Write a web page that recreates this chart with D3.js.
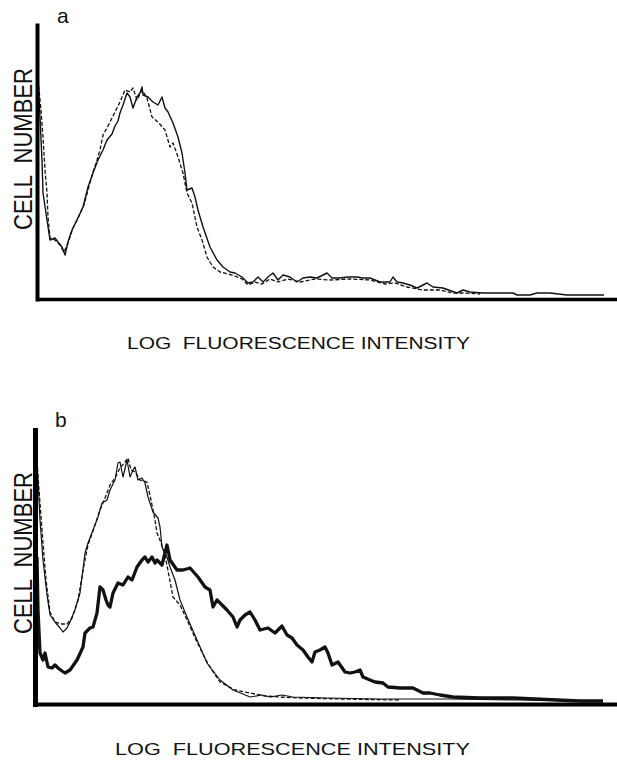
<!DOCTYPE html>
<html>
<head>
<meta charset="utf-8">
<script src="https://cdn.jsdelivr.net/npm/d3@7"></script>
<style>
  html, body { margin: 0; padding: 0; background: #fff; }
  svg text { font-family: "Liberation Sans", Arial, sans-serif; fill: #111; }
</style>
</head>
<body>
<div id="chart"></div>
<script>
/*
    Two flow cytometry histograms (a, b): cell number vs log fluorescence channel
    values, channel 0-580, count 0-274 (arbitrary units)
*/

// panel a: control (solid) and second control (dashed)
var aSolid = [[1,222],[3,182],[5,139],[6,106],[10,79],[13,59],[18,61],[21,57],[25,52],[28,44],
    [31,57],[35,69],[40,79],[46,92],[51,112],[56,126],[61,139],[66,149],[70,159],[75,165],
    [78,173],[81,178],[83,186],[86,194],[90,206],[93,202],[96,191],[100,202],[103,206],[105,212],
    [106,204],[111,202],[116,197],[121,194],[125,202],[128,191],[131,187],[136,176],[141,162],[145,146],
    [148,126],[150,109],[155,111],[158,102],[161,89],[166,72],[173,52],[180,39],[186,32],[193,27],
    [198,26],[205,22],[211,16],[216,17],[221,22],[226,17],[231,22],[236,26],[241,19],[246,24],
    [253,22],[260,17],[266,21],[273,22],[280,21],[286,24],[290,26],[295,21],[303,21],[311,22],
    [320,22],[326,21],[333,21],[343,17],[353,17],[356,22],[360,17],[366,16],[373,14],[380,11],
    [390,16],[396,12],[406,11],[420,6],[426,9],[433,7],[446,6],[476,6],[480,4],[493,4],
    [500,6],[513,6],[530,4],[567,4]];

var aDashed = [[1,219],[4,189],[6,162],[8,129],[10,106],[11,82],[13,61],[18,59],[23,54],[27,47],
    [31,56],[36,71],[41,81],[47,94],[51,109],[56,127],[60,139],[63,149],[66,164],[70,171],
    [75,181],[79,189],[83,197],[88,209],[93,207],[96,211],[100,199],[105,209],[110,201],[115,182],
    [121,177],[128,169],[133,152],[136,156],[141,142],[146,126],[150,106],[155,96],[160,72],[165,59],
    [170,42],[176,32],[183,27],[191,25],[198,23],[205,20],[211,14],[218,17],[225,15],[233,20],
    [241,17],[251,20],[263,17],[278,20],[293,19],[313,20],[333,19],[348,15],[358,16],[370,12],
    [386,9],[403,9],[416,6],[428,6],[443,5]];

// panel b: controls (thin solid, dashed) and treated cells (thick)
var bSolid = [[0,272],[3,224],[5,184],[8,144],[12,109],[15,89],[20,82],[25,76],[28,72],[32,76],
    [35,82],[40,94],[45,111],[50,151],[53,161],[58,174],[63,187],[67,201],[72,204],[75,214],
    [80,224],[83,241],[85,242],[88,227],[92,244],[95,227],[98,234],[100,237],[103,224],[107,226],
    [110,221],[113,207],[118,192],[123,186],[125,177],[127,157],[132,147],[135,137],[140,124],[145,104],
    [152,87],[162,64],[172,41],[185,24],[198,14],[208,10],[215,7],[227,9],[235,7],[247,9],
    [258,7],[292,6],[345,5],[415,5],[485,4],[565,3]];

var bDashed = [[0,272],[4,214],[7,174],[11,124],[15,92],[20,82],[27,80],[32,80],[37,86],[43,104],
    [49,139],[53,159],[59,176],[65,194],[70,206],[75,219],[80,226],[85,236],[90,242],[93,246],
    [96,234],[100,232],[105,224],[112,222],[116,204],[120,184],[122,171],[125,164],[130,149],[138,107],
    [145,99],[152,84],[162,62],[173,40],[185,22],[200,14],[210,12],[220,10],[230,8],[245,7],
    [265,6],[305,5],[365,4]];

var bThick = [[2,147],[3,94],[5,51],[8,44],[10,51],[13,37],[17,36],[20,39],[23,36],[27,33],
    [30,31],[35,34],[42,44],[48,57],[50,71],[55,76],[58,77],[62,91],[65,117],[68,114],
    [71,104],[73,99],[75,97],[78,111],[83,121],[88,119],[93,127],[97,124],[102,137],[107,144],
    [110,147],[113,142],[117,147],[120,141],[122,144],[127,139],[132,159],[135,144],[142,134],[148,134],
    [155,136],[163,127],[170,117],[175,114],[178,97],[182,104],[187,99],[192,94],[198,87],[202,77],
    [205,84],[210,89],[215,92],[220,84],[225,74],[233,76],[240,71],[247,78],[252,69],[257,66],
    [262,59],[268,54],[273,47],[277,42],[280,52],[285,54],[290,57],[293,51],[297,39],[303,42],
    [310,32],[315,31],[320,32],[325,34],[328,27],[335,24],[340,22],[348,21],[353,17],[365,16],
    [378,16],[388,11],[395,11],[405,9],[418,7],[445,6],[478,6],[522,4],[545,3],[568,3]];

var panelLabels = ['a', 'b'];
var yTitle = 'CELL  NUMBER';
var xTitle = 'LOG  FLUORESCENCE INTENSITY';

var W = 617, H = 760;
var svg = d3.select('#chart').append('svg')
    .attr('width', W)
    .attr('height', H);

var line = function(x, y) {
    return d3.line()
        .x(function(d) { return x(d[0]); })
        .y(function(d) { return y(d[1]); });
};

function drawPanel(p) {
    var x = d3.scaleLinear().domain([0, p.xMax]).range([p.left, W]);
    var y = d3.scaleLinear().domain([0, 274]).range([p.base, p.top]);
    var g = svg.append('g');

    /* curves */
    p.series.forEach(function(s) {
        g.append('path')
            .datum(s.data)
            .attr('fill', 'none')
            .attr('stroke', '#111')
            .attr('stroke-width', s.width)
            .attr('stroke-dasharray', s.dash || null)
            .attr('stroke-linejoin', 'round')
            .attr('d', line(x, y));
    });

    /* axes, no ticks, just heavy lines */
    g.append('g')
        .attr('class', 'axis-y')
        .attr('transform', 'translate(' + p.left + ',0)')
        .call(d3.axisLeft(y).ticks(0).tickSizeOuter(0))
        .select('.domain')
            .attr('stroke', '#000')
            .attr('stroke-width', p.yw)
            .attr('stroke-linecap', 'square');
    g.append('g')
        .attr('class', 'axis-x')
        .attr('transform', 'translate(0,' + p.base + ')')
        .call(d3.axisBottom(x).ticks(0).tickSizeOuter(0))
        .select('.domain')
            .attr('stroke', '#000')
            .attr('stroke-width', p.xw);

    /* texts */
    g.append('text')
        .attr('x', p.labelX)
        .attr('y', p.labelY)
        .style('font-size', '21px')
        .text(p.label);

    g.append('text')
        .attr('transform', 'translate(32,' + p.yTitleY + ') rotate(-90)')
        .attr('text-anchor', 'middle')
        .attr('textLength', 162)
        .attr('lengthAdjust', 'spacingAndGlyphs')
        .style('font-size', '25px')
        .style('white-space', 'pre')
        .text(yTitle);

    g.append('text')
        .attr('x', p.xTitleX)
        .attr('y', p.xTitleY)
        .attr('textLength', p.xTitleLen)
        .attr('lengthAdjust', 'spacingAndGlyphs')
        .style('font-size', p.xTitleSize)
        .style('white-space', 'pre')
        .text(xTitle);
}

drawPanel({
    label: panelLabels[0], labelX: 57, labelY: 23,
    left: 37, top: 25, base: 299, xMax: 580, yw: 4, xw: 3.5,
    yTitleY: 149, xTitleX: 127, xTitleY: 349, xTitleLen: 343, xTitleSize: '16px',
    series: [
        {data: aDashed, width: 1.3, dash: '4,2'},
        {data: aSolid, width: 1.4}
    ]
});

drawPanel({
    label: panelLabels[1], labelX: 55, labelY: 427,
    left: 35, top: 430, base: 704, xMax: 582, yw: 5, xw: 4,
    yTitleY: 553, xTitleX: 115, xTitleY: 755, xTitleLen: 355, xTitleSize: '17px',
    series: [
        {data: bDashed, width: 1.3, dash: '4,2'},
        {data: bSolid, width: 1.2},
        {data: bThick, width: 3.3}
    ]
});
</script>
</body>
</html>
